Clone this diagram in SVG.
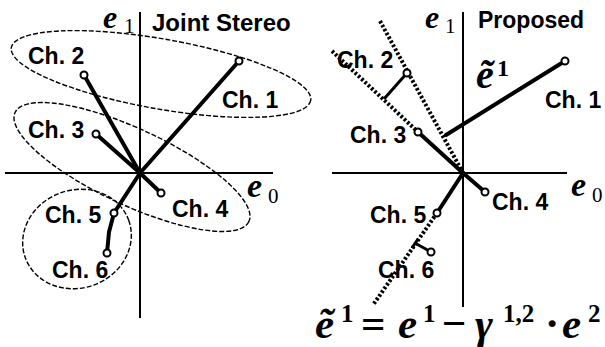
<svg xmlns="http://www.w3.org/2000/svg" width="605" height="347" viewBox="0 0 605 347">
<defs>
<style>
.ax{stroke:#000;stroke-width:2;fill:none}
.ch{stroke:#000;stroke-width:4;fill:none;stroke-linecap:round}
.pr{stroke:#000;stroke-width:3;fill:none}
.dot{stroke:#000;stroke-width:4;fill:none;stroke-dasharray:2.5 2}
.ell{stroke:#000;stroke-width:1.4;fill:none;stroke-dasharray:5 2}
.pt{fill:#fff;stroke:#000;stroke-width:2}
.lbl{font-family:"Liberation Sans",Arial,sans-serif;font-weight:bold;font-size:23px;fill:#000}
.ttl{font-family:"Liberation Sans",Arial,sans-serif;font-weight:bold;fill:#000}
.m{font-family:"Liberation Serif","Times New Roman",serif;font-weight:bold;font-style:italic;fill:#000}
.n{font-family:"Liberation Serif","Times New Roman",serif;font-weight:bold;fill:#000}
.s{font-family:"Liberation Serif","Times New Roman",serif;fill:#000}
</style>
</defs>
<rect width="605" height="347" fill="#fff"/>

<g id="left-axes">
<line class="ax" x1="5" y1="173" x2="273" y2="173" stroke-width="2.5"/>
<line class="ax" x1="140" y1="12" x2="140" y2="318"/>
<text class="m" x="103" y="28" font-size="32">e</text>
<text class="s" x="124" y="33" font-size="21">1</text>
<text class="m" x="247" y="197" font-size="34">e</text>
<text class="s" x="268" y="203" font-size="21">0</text>
<text class="ttl" x="152" y="31" font-size="24">Joint Stereo</text>
</g>

<g id="left-groups">
<ellipse class="ell" cx="161" cy="74" rx="152" ry="35" transform="rotate(10 161 74)"/>
<ellipse class="ell" cx="132" cy="167" rx="129" ry="38" transform="rotate(25 132 167)"/>
<ellipse class="ell" cx="77" cy="239" rx="55" ry="49" transform="rotate(-20 77 239)"/>
</g>

<g id="left-connectors">
<line class="ch" x1="140" y1="173" x2="239" y2="61"/>
<line class="ch" x1="140" y1="173" x2="84" y2="75"/>
<line class="ch" x1="140" y1="173" x2="96" y2="134"/>
<line class="ch" x1="140" y1="173" x2="161" y2="193"/>
<line class="ch" x1="140" y1="173" x2="114" y2="213"/>
<polyline class="ch" points="114,213 109,232 107,253"/>
</g>

<g id="left-ch1"><circle class="pt" cx="239" cy="61" r="3.5"/><text class="lbl" x="222" y="108">Ch. 1</text></g>
<g id="left-ch2"><circle class="pt" cx="84" cy="75" r="3.5"/><text class="lbl" x="28" y="64">Ch. 2</text></g>
<g id="left-ch3"><circle class="pt" cx="96" cy="134" r="3.5"/><text class="lbl" x="28" y="138">Ch. 3</text></g>
<g id="left-ch4"><circle class="pt" cx="161" cy="193" r="3.5"/><text class="lbl" x="172" y="217">Ch. 4</text></g>
<g id="left-ch5"><circle class="pt" cx="114" cy="213" r="3.5"/><text class="lbl" x="45" y="223">Ch. 5</text></g>
<g id="left-ch6"><circle class="pt" cx="107" cy="253" r="3.5"/><text class="lbl" x="52" y="278">Ch. 6</text></g>

<g id="right-axes">
<line class="ax" x1="332" y1="173" x2="567" y2="173"/>
<line class="ax" x1="463" y1="12" x2="463" y2="307" stroke-width="1.6"/>
<text class="m" x="425" y="28" font-size="32">e</text>
<text class="s" x="445" y="33" font-size="21">1</text>
<text class="m" x="571" y="196" font-size="34">e</text>
<text class="s" x="592" y="202" font-size="21">0</text>
<text class="ttl" x="478" y="28" font-size="23">Proposed</text>
</g>

<g id="right-connectors">
<line class="dot" x1="380" y1="21" x2="463" y2="173"/>
<line class="dot" x1="332" y1="51" x2="418" y2="132"/>
<line class="dot" x1="437" y1="213" x2="373" y2="305"/>
<line class="ch" x1="446" y1="135" x2="565" y2="61"/>
<line class="pr" x1="407" y1="73" x2="384" y2="99"/>
<line class="ch" x1="463" y1="173" x2="418" y2="132"/>
<line class="ch" x1="463" y1="173" x2="485" y2="192"/>
<line class="ch" x1="463" y1="173" x2="437" y2="213"/>
<line class="pr" x1="431" y1="252" x2="415" y2="243"/>
<line class="pr" x1="412" y1="248" x2="418" y2="239"/>
</g>

<g id="right-ch1"><circle class="pt" cx="565" cy="61" r="3.5"/><text class="lbl" x="545" y="108">Ch. 1</text>
<text class="m" x="476" y="88" font-size="40">ẽ</text><text class="n" x="497" y="76" font-size="24">1</text></g>
<g id="right-ch2"><circle class="pt" cx="407" cy="73" r="3.5"/><text class="lbl" x="337" y="68">Ch. 2</text></g>
<g id="right-ch3"><circle class="pt" cx="418" cy="132" r="3.5"/><text class="lbl" x="350" y="143">Ch. 3</text></g>
<g id="right-ch4"><circle class="pt" cx="485" cy="192" r="3.5"/><text class="lbl" x="492" y="210">Ch. 4</text></g>
<g id="right-ch5"><circle class="pt" cx="437" cy="213" r="3.5"/><text class="lbl" x="370" y="223">Ch. 5</text></g>
<g id="right-ch6"><circle class="pt" cx="431" cy="252" r="3.5"/><text class="lbl" x="378" y="278">Ch. 6</text></g>

<g id="formula">
<text class="m" x="315" y="338" font-size="43">ẽ</text>
<text class="n" x="341" y="322" font-size="25">1</text>
<text class="n" x="361" y="338" font-size="43">=</text>
<text class="m" x="398" y="338" font-size="43">e</text>
<text class="n" x="423" y="322" font-size="25">1</text>
<text class="n" x="442" y="338" font-size="43">−</text>
<text class="m" x="475" y="338" font-size="43">γ</text>
<text class="n" x="503" y="322" font-size="25">1,2</text>
<text class="n" x="545" y="338" font-size="43">·</text>
<text class="m" x="562" y="338" font-size="43">e</text>
<text class="n" x="588" y="322" font-size="25">2</text>
</g>
</svg>
